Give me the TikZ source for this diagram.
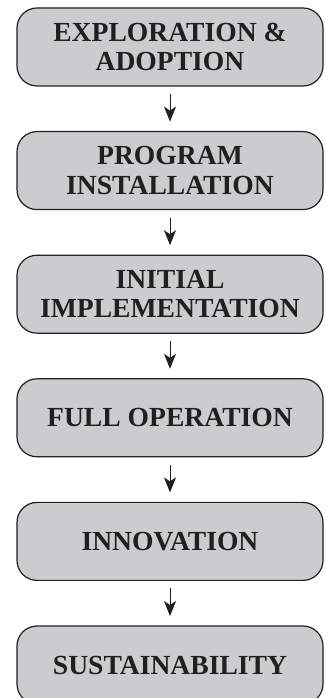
\documentclass[tikz,border=0pt]{standalone}
\usepackage{fontspec}
\setmainfont{Liberation Serif}
\usepackage{tikz}
\usetikzlibrary{positioning,arrows.meta,calc}
\definecolor{boxgray}{HTML}{CBCCCE}
\definecolor{ink}{HTML}{231F20}

\begin{document}
\begin{tikzpicture}[
    x=1pt, y=1pt,
    node distance=45.6pt,
    stage/.style={draw=ink, line width=1.2pt, rounded corners=20pt, fill=boxgray, minimum width=306pt, minimum height=78pt, align=center, text=ink, font=\fontsize{27.6}{29.5}\selectfont\bfseries, inner sep=0pt, outer sep=0pt},
    arr/.style={-{Stealth[length=15pt, width=12pt, inset=4pt]}, line width=0.9pt, ink, shorten <=8pt, shorten >=10pt}
  ]
    \useasboundingbox (0,0) rectangle (325,698);
    \node[stage] (explore) at (170,651) {EXPLORATION \&\\ADOPTION};
    \node[stage, below=of explore] (install) {PROGRAM\\INSTALLATION};
    \node[stage, below=of install] (initial) {INITIAL\\IMPLEMENTATION};
    \node[stage, below=of initial] (fullop) {FULL OPERATION};
    \node[stage, below=of fullop] (innov) {INNOVATION};
    \node[stage, below=of innov] (sustain) {SUSTAINABILITY};

    \draw[arr] (explore) -- (install);
    \draw[arr] (install) -- (initial);
    \draw[arr] (initial) -- (fullop);
    \draw[arr] (fullop) -- (innov);
    \draw[arr] (innov) -- (sustain);
  \end{tikzpicture}
\end{document}
